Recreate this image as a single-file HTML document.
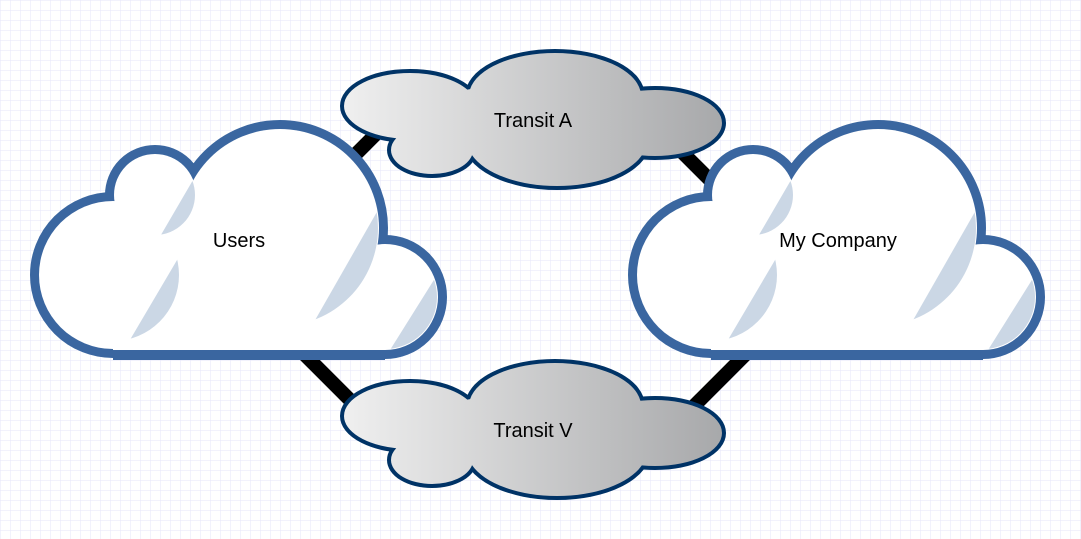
<!DOCTYPE html>
<html><head><meta charset="utf-8"><style>
html,body{margin:0;padding:0;background:#fff;}
svg{display:block;}
text{font-family:"Liberation Sans",sans-serif;font-size:20px;fill:#000;}
</style></head><body>
<svg width="1081" height="539" viewBox="0 0 1081 539" xmlns="http://www.w3.org/2000/svg">
<defs>
<pattern id="g" width="10" height="10" patternUnits="userSpaceOnUse" x="1" y="1">
<path d="M10 0V10M0 10H10" stroke="#e6e6fa" stroke-width="1" fill="none"/>
</pattern>
<linearGradient id="gr" x1="0" y1="0" x2="1" y2="0">
<stop offset="0" stop-color="#f0f0f0"/><stop offset="1" stop-color="#a6a7a9"/>
</linearGradient>
<clipPath id="c1"><polygon points="378,210 298,350 420,350 420,210"/></clipPath>
<clipPath id="c2"><polygon points="437,275 390,350 450,350 450,275"/></clipPath>
<clipPath id="c3"><polygon points="180,255 124,350 200,350 200,255"/></clipPath>
<clipPath id="c4"><polygon points="193,180 158,240 200,240 200,180"/></clipPath>
<g id="bigc">
<g stroke="#3a66a0" stroke-width="18" fill="#3a66a0">
<circle cx="113" cy="275" r="74"/><circle cx="155" cy="195" r="41"/>
<circle cx="280" cy="228" r="99"/><circle cx="385" cy="297" r="53"/>
</g>
<rect x="113" y="250" width="272" height="110" fill="#3a66a0"/>
<g fill="#fff">
<circle cx="113" cy="275" r="74"/><circle cx="155" cy="195" r="41"/>
<circle cx="280" cy="228" r="99"/><circle cx="385" cy="297" r="53"/>
<rect x="113" y="250" width="272" height="100"/>
<rect x="140" y="200" width="160" height="150"/>
</g>
<circle cx="280" cy="228" r="98" fill="#cbd7e5" clip-path="url(#c1)"/>
<circle cx="385" cy="297" r="52" fill="#cbd7e5" clip-path="url(#c2)"/>
<circle cx="113" cy="275" r="66" fill="#cbd7e5" clip-path="url(#c3)"/>
<circle cx="155" cy="195" r="40" fill="#cbd7e5" clip-path="url(#c4)"/>
</g>
<g id="smc">
<g stroke="#003366" stroke-width="8" fill="#003366">
<ellipse cx="410" cy="106" rx="66" ry="33"/><ellipse cx="555" cy="96" rx="86" ry="43"/>
<ellipse cx="655" cy="123" rx="67" ry="33"/><ellipse cx="557" cy="140" rx="90" ry="46"/>
<ellipse cx="432" cy="150" rx="41" ry="24"/>
</g>
</g>
<clipPath id="sm">
<ellipse cx="410" cy="106" rx="66" ry="33"/><ellipse cx="555" cy="96" rx="86" ry="43"/>
<ellipse cx="655" cy="123" rx="67" ry="33"/><ellipse cx="557" cy="140" rx="90" ry="46"/>
<ellipse cx="432" cy="150" rx="41" ry="24"/>
<ellipse cx="530" cy="122" rx="120" ry="38"/>
</clipPath>
</defs>
<rect width="1081" height="539" fill="url(#g)"/>
<g stroke="#000" stroke-width="14">
<line x1="330" y1="180" x2="400" y2="110"/>
<line x1="660" y1="130" x2="730" y2="200"/>
<line x1="290" y1="340" x2="370" y2="420"/>
<line x1="680" y1="420" x2="760" y2="340"/>
</g>
<use href="#bigc"/>
<use href="#bigc" x="598"/>
<use href="#smc"/>
<rect x="340" y="48" width="390" height="145" fill="url(#gr)" clip-path="url(#sm)"/>
<g transform="translate(0,310)">
<use href="#smc"/>
<rect x="340" y="48" width="390" height="145" fill="url(#gr)" clip-path="url(#sm)"/>
</g>
<text x="239" y="247" text-anchor="middle">Users</text>
<text x="838" y="247" text-anchor="middle">My Company</text>
<text x="533" y="127" text-anchor="middle">Transit A</text>
<text x="533" y="437" text-anchor="middle">Transit V</text>
</svg>
</body></html>
